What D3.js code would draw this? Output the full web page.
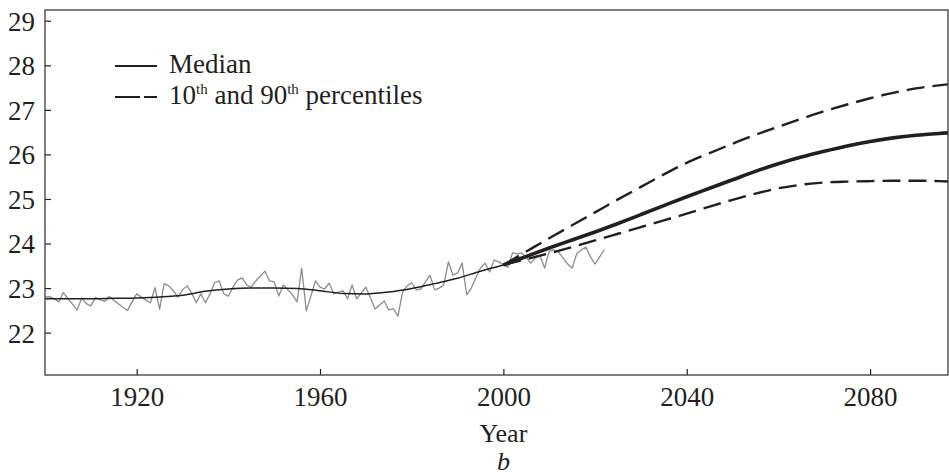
<!DOCTYPE html>
<html>
<head>
<meta charset="utf-8">
<script src="https://cdn.jsdelivr.net/npm/d3@7"></script>
<style>
    html, body { margin: 0; padding: 0; background: #fff; }
    text, tspan { font-family: 'Liberation Serif', serif !important; }
</style>
</head>
<body>
<script>
// Observed yearly values (grey line), 1900 - 2022
var observedYears = d3.range(1900, 2023);
var observedValues = [
    22.80, 22.81, 22.76, 22.69, 22.90, 22.77, 22.64, 22.51, 22.78, 22.65,
    22.60, 22.79, 22.74, 22.70, 22.81, 22.73, 22.65, 22.57, 22.50, 22.69,
    22.87, 22.80, 22.73, 22.67, 23.01, 22.53, 23.10, 23.05, 22.94, 22.80,
    22.96, 23.05, 22.89, 22.67, 22.87, 22.67, 22.87, 23.12, 23.16, 22.87,
    22.82, 23.02, 23.18, 23.23, 23.07, 23.02, 23.16, 23.27, 23.38, 23.16,
    23.14, 22.82, 23.07, 22.96, 22.85, 22.69, 23.45, 22.49, 22.82, 23.16,
    23.02, 22.98, 23.11, 22.87, 22.91, 22.94, 22.76, 23.07, 22.76, 22.89,
    23.02, 22.78, 22.53, 22.62, 22.71, 22.51, 22.54, 22.37, 22.91, 23.05,
    23.12, 22.96, 22.98, 23.14, 23.29, 22.96, 23.00, 23.07, 23.59, 23.29,
    23.34, 23.56, 22.85, 23.00, 23.23, 23.45, 23.56, 23.36, 23.63, 23.59,
    23.52, 23.47, 23.79, 23.77, 23.79, 23.68, 23.56, 23.68, 23.72, 23.45,
    23.83, 23.86, 23.81, 23.68, 23.54, 23.45, 23.77, 23.86, 23.92, 23.70,
    23.54, 23.70, 23.86
];

// Smoothed historical median (thin black line)
var medianHistYears = [1900, 1905, 1910, 1915, 1920, 1925, 1930, 1935, 1940, 1945, 1950,
    1955, 1960, 1965, 1970, 1975, 1980, 1985, 1990, 1995, 2000];
var medianHistValues = [22.76, 22.76, 22.76, 22.77, 22.78, 22.80, 22.84, 22.93, 22.98, 23.00, 23.00,
    22.99, 22.94, 22.88, 22.87, 22.91, 22.99, 23.10, 23.22, 23.38, 23.52];

// Projections 2000 - 2100
var projYears = [2000, 2005, 2010, 2015, 2020, 2025, 2030, 2035, 2040, 2045, 2050,
    2055, 2060, 2065, 2070, 2075, 2080, 2085, 2090, 2095, 2100];
var projMedian = [23.52, 23.71, 23.90, 24.08, 24.26, 24.45, 24.65, 24.85, 25.05, 25.24, 25.43,
    25.62, 25.79, 25.94, 26.07, 26.19, 26.29, 26.37, 26.43, 26.47, 26.50];
var projP90 = [23.52, 23.82, 24.12, 24.41, 24.70, 24.99, 25.27, 25.55, 25.81, 26.03, 26.24,
    26.44, 26.62, 26.80, 26.97, 27.12, 27.26, 27.38, 27.48, 27.55, 27.60];
var projP10 = [23.52, 23.65, 23.78, 23.92, 24.07, 24.22, 24.37, 24.52, 24.67, 24.83, 24.98,
    25.12, 25.24, 25.32, 25.37, 25.39, 25.40, 25.41, 25.41, 25.40, 25.38];

// Tick labels
var xTicks = [1920, 1960, 2000, 2040, 2080];
var yTicks = [22, 23, 24, 25, 26, 27, 28, 29];

var width = 949, height = 475;
var plot = { left: 45, right: 948, top: 10, bottom: 375 };
var ink = '#231f20';

var svg = d3.select('body').append('svg')
    .attr('width', width)
    .attr('height', height)
    .attr('font-family', 'Liberation Serif');

svg.append('rect').attr('width', width).attr('height', height).attr('fill', '#fff');

// Scales
var x = d3.scaleLinear().domain([1900, 2097]).range([plot.left, plot.right]);
var y = d3.scaleLinear().domain([21.05, 29.24]).range([plot.bottom, plot.top]);

// Clip to the plot frame
svg.append('clipPath').attr('id', 'clip')
    .append('rect')
    .attr('x', plot.left).attr('y', plot.top)
    .attr('width', plot.right - plot.left).attr('height', plot.bottom - plot.top);

var zip = function(xs, ys) {
    return xs.map(function(d, i) { return [d, ys[i]]; });
};

var line = d3.line()
    .x(function(d) { return x(d[0]); })
    .y(function(d) { return y(d[1]); });
var smooth = d3.line()
    .x(function(d) { return x(d[0]); })
    .y(function(d) { return y(d[1]); })
    .curve(d3.curveMonotoneX);

var g = svg.append('g').attr('clip-path', 'url(#clip)');

// Observed grey line
g.append('path')
    .attr('d', line(zip(observedYears, observedValues)))
    .attr('fill', 'none')
    .attr('stroke', '#8c8c8c')
    .attr('stroke-width', 1.3)
    .attr('stroke-linejoin', 'round');

// Historical median
g.append('path')
    .attr('d', smooth(zip(medianHistYears, medianHistValues)))
    .attr('fill', 'none')
    .attr('stroke', ink)
    .attr('stroke-width', 1.5);

// Percentiles
[projP90, projP10].forEach(function(vals) {
    g.append('path')
        .attr('d', smooth(zip(projYears, vals)))
        .attr('fill', 'none')
        .attr('stroke', ink)
        .attr('stroke-width', 2.4)
        .attr('stroke-dasharray', '18,8');
});

// Projected median
g.append('path')
    .attr('d', smooth(zip(projYears, projMedian)))
    .attr('fill', 'none')
    .attr('stroke', ink)
    .attr('stroke-width', 3.6);

// Axes (ticks point inward)
var xAxis = d3.axisBottom(x).tickValues(xTicks).tickFormat(d3.format('d'))
    .tickSizeInner(-6).tickSizeOuter(0).tickPadding(12);
var yAxis = d3.axisLeft(y).tickValues(yTicks).tickFormat(d3.format('d'))
    .tickSizeInner(-6).tickSizeOuter(0).tickPadding(10);

var gx = svg.append('g')
    .attr('transform', 'translate(0,' + plot.bottom + ')')
    .call(xAxis);
var gy = svg.append('g')
    .attr('transform', 'translate(' + plot.left + ',0)')
    .call(yAxis);

[gx, gy].forEach(function(a) {
    a.attr('font-family', 'Liberation Serif').attr('font-size', 27);
    a.select('.domain').remove();
    a.selectAll('line').attr('stroke', ink).attr('stroke-width', 1.2);
    a.selectAll('text').attr('fill', ink);
});
gx.selectAll('text').attr('dy', '0.71em');
gy.selectAll('text').attr('dy', '0.35em');

// Frame
svg.append('rect')
    .attr('x', plot.left).attr('y', plot.top)
    .attr('width', plot.right - plot.left).attr('height', plot.bottom - plot.top)
    .attr('fill', 'none')
    .attr('stroke', '#3a3a3a')
    .attr('stroke-width', 1.3);

// Axis title and panel letter
svg.append('text')
    .attr('x', x(2000))
    .attr('y', 442)
    .attr('text-anchor', 'middle')
    .attr('fill', ink)
    .attr('font-size', 26)
    .text('Year');
svg.append('text')
    .attr('x', x(2000))
    .attr('y', 470)
    .attr('text-anchor', 'middle')
    .attr('fill', ink)
    .attr('font-size', 26)
    .attr('font-style', 'italic')
    .text('b');

// Legend
var legend = svg.append('g');
legend.append('line')
    .attr('x1', 115).attr('x2', 157).attr('y1', 66).attr('y2', 66)
    .attr('stroke', ink).attr('stroke-width', 2.2);
legend.append('line')
    .attr('x1', 115).attr('x2', 157).attr('y1', 97).attr('y2', 97)
    .attr('stroke', ink).attr('stroke-width', 2.2)
    .attr('stroke-dasharray', '25,4');
legend.append('text')
    .attr('x', 169).attr('y', 73)
    .attr('fill', ink)
    .attr('font-size', 27)
    .text('Median');
var t = legend.append('text')
    .attr('x', 169).attr('y', 104)
    .attr('fill', ink)
    .attr('font-size', 27);
t.append('tspan').text('10');
t.append('tspan').attr('dy', -10).attr('font-size', 15).text('th');
t.append('tspan').attr('dy', 10).text(' and 90');
t.append('tspan').attr('dy', -10).attr('font-size', 15).text('th');
t.append('tspan').attr('dy', 10).text(' percentiles');
</script>
</body>
</html>
